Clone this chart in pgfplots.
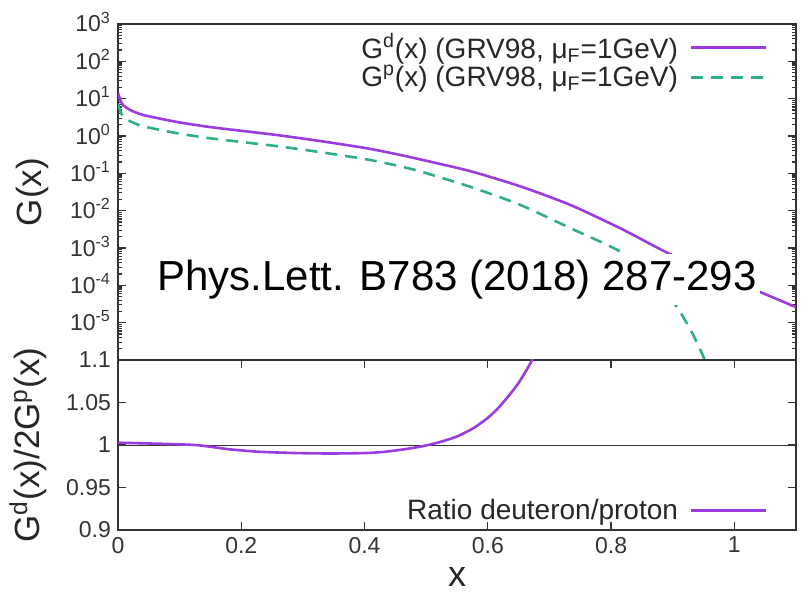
\documentclass[border=0pt]{standalone}
\usepackage{fontspec}
\setmainfont{Liberation Sans}
\usepackage{pgfplots}
\pgfplotsset{compat=1.18}
\definecolor{cpurple}{HTML}{9B3BE0}
\definecolor{cgreen}{HTML}{2FAE88}
\definecolor{cframe}{HTML}{333333}

\pgfplotstableread{
x y
0.000 14.2
0.004 9.0
0.008 6.8
0.0195 5.0
0.041 3.65
0.096 2.37
0.149 1.74
0.203 1.36
0.258 1.06
0.312 0.80
0.360 0.61
0.404 0.468
0.450 0.331
0.490 0.237
0.571 0.115
0.653 0.0447
0.734 0.0142
0.815 0.00337
0.888 0.00079
0.940 0.00032
0.990 0.000148
1.042 0.000066
1.100 0.000026
}\gd

\pgfplotstableread{
x y
0.000 7.08
0.004 4.49
0.008 3.39
0.0195 2.49
0.041 1.82
0.096 1.184
0.149 0.871
0.203 0.684
0.258 0.535
0.312 0.404
0.360 0.308
0.404 0.236
0.450 0.165
0.490 0.113
0.571 0.0439
0.653 0.0142
0.734 0.0034
0.815 0.00080
0.858 0.00019
0.901 0.000036
0.929 0.0000064
0.950 0.0000012
0.958 0.0000005
}\gp

\pgfplotstableread{
x y
0.000 1.0027
0.050 1.0018
0.100 1.0008
0.133 0.9995
0.180 0.9950
0.230 0.9920
0.290 0.9905
0.344 0.9900
0.400 0.9905
0.430 0.9918
0.460 0.9945
0.490 0.9980
0.520 1.0030
0.550 1.0100
0.577 1.0200
0.600 1.0320
0.620 1.0460
0.648 1.0710
0.672 1.1000
0.690 1.1300
}\ratio

\begin{document}
\begin{tikzpicture}
\useasboundingbox (0,0) rectangle (404pt,297.5pt);
\pgfplotsset{
  common/.style={
    scale only axis, width=339pt, xmin=0, xmax=1.1,
    axis line style={cframe, line width=0.8pt},
    tick align=inside,
    tick style={cframe, line width=0.6pt},
    major tick length=4pt, minor tick length=2pt,
    ticklabel style={font=\fontsize{11.5}{13}\selectfont, text=cframe},
    /pgf/number format/assume math mode=true,
    legend cell align=right, legend plot pos=right,
    legend image code/.code={\draw[##1] (0pt,0pt) -- (37.5pt,0pt);},
    legend style={draw=none, fill=none, inner sep=0pt, anchor=north east,
      font=\fontsize{14}{16}\selectfont, text=black!85,
      /tikz/column 1/.style={column sep=4pt}, row sep=-2pt},
    every axis y label/.style={rotate=90, anchor=center,
      font=\fontsize{17.5}{20}\selectfont, text=black!85},
  },
}
\begin{axis}[common, at={(59pt,117.5pt)}, anchor=south west, height=168pt,
  ymode=log, ymin=1e-6, ymax=1e3,
  xtick=\empty,
  ytick={1e-5,1e-4,1e-3,1e-2,1e-1,1,10,100,1000},
  yticklabels={10\textsuperscript{-5},10\textsuperscript{-4},10\textsuperscript{-3},10\textsuperscript{-2},10\textsuperscript{-1},10\textsuperscript{0},10\textsuperscript{1},10\textsuperscript{2},10\textsuperscript{3}},
  yticklabel style={anchor=base east, yshift=-4pt},
  minor ytick={2e-6,3e-6,4e-6,5e-6,6e-6,7e-6,8e-6,9e-6,
    2e-5,3e-5,4e-5,5e-5,6e-5,7e-5,8e-5,9e-5,
    2e-4,3e-4,4e-4,5e-4,6e-4,7e-4,8e-4,9e-4,
    2e-3,3e-3,4e-3,5e-3,6e-3,7e-3,8e-3,9e-3,
    2e-2,3e-2,4e-2,5e-2,6e-2,7e-2,8e-2,9e-2,
    0.2,0.3,0.4,0.5,0.6,0.7,0.8,0.9,
    2,3,4,5,6,7,8,9,
    20,30,40,50,60,70,80,90,
    200,300,400,500,600,700,800,900},
  ylabel={G(x)},
  ylabel style={at={(rel axis cs:-0.1268,0.5)}},
  legend style={at={(rel axis cs:0.9587,0.984)}},
]
\addplot[cpurple, line width=1.3pt, smooth, tension=0.4] table {\gd};
\addlegendentry{G\textsuperscript{d}(x) (GRV98, μ\textsubscript{F}=1GeV)}
\addplot[cgreen, line width=1.3pt, dash pattern=on 6pt off 4pt, smooth, tension=0.4] table {\gp};
\addlegendentry{G\textsuperscript{p}(x) (GRV98, μ\textsubscript{F}=1GeV)}
\node[anchor=base, fill=white, inner xsep=1.5pt, inner ysep=3pt, font=\fontsize{21}{24}\selectfont, text=black]
  at (rel axis cs:0.5,0.208) {Phys.Lett. B783 (2018) 287-293};
\end{axis}

\begin{axis}[common, at={(59pt,32.5pt)}, anchor=south west, height=85pt,
  ymin=0.9, ymax=1.1,
  xtick={0,0.2,0.4,0.6,0.8,1}, xticklabels={0,0.2,0.4,0.6,0.8,1},
  ytick={0.9,0.95,1,1.05,1.1}, yticklabels={0.9,0.95,1,1.05,1.1},
  xlabel={x},
  xlabel style={font=\fontsize{18}{20}\selectfont, text=black!85},
  ylabel={G\textsuperscript{d}(x)/2G\textsuperscript{p}(x)},
  ylabel style={at={(rel axis cs:-0.1327,0.5)}},
  legend style={at={(rel axis cs:0.9587,0.208)}},
]
\addplot[black!80, line width=0.5pt, forget plot] coordinates {(0,1) (1.1,1)};
\addplot[cpurple, line width=1.3pt, smooth, tension=0.4] table {\ratio};
\addlegendentry{Ratio deuteron/proton}
\end{axis}
\end{tikzpicture}
\end{document}
